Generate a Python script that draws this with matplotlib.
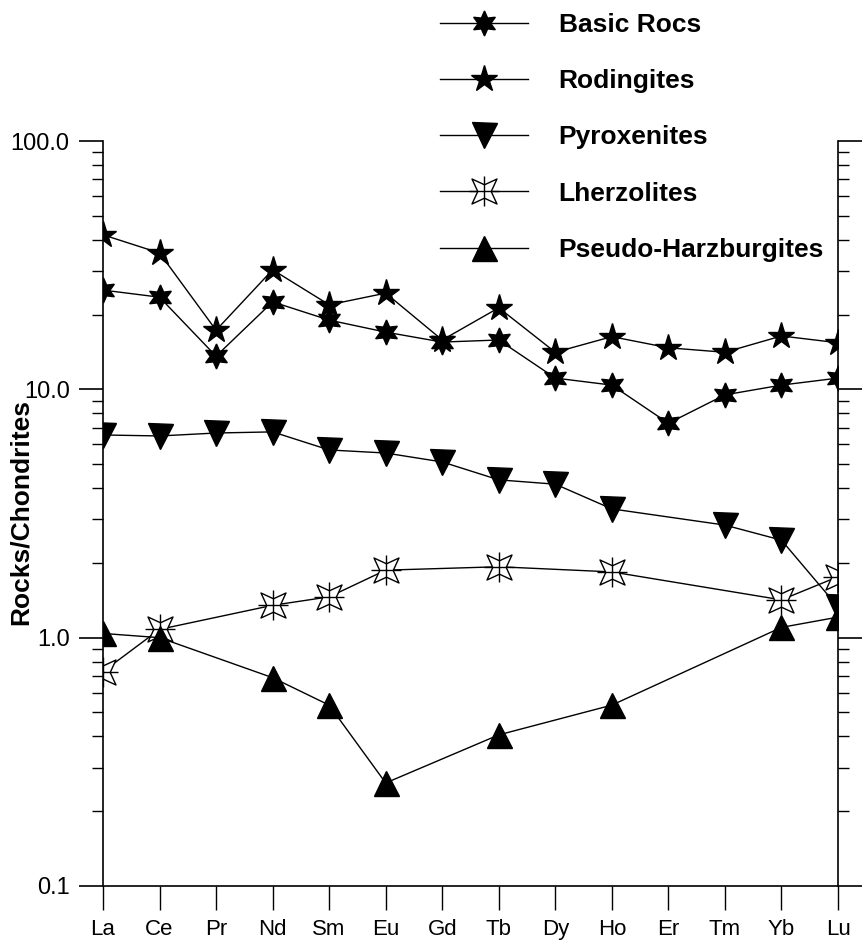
import numpy as np
import matplotlib
matplotlib.use('Agg')
import matplotlib.pyplot as plt
from matplotlib.path import Path
from matplotlib.transforms import Affine2D
from matplotlib.ticker import FixedLocator, FixedFormatter, LogLocator, NullFormatter

plt.rcParams['font.family'] = ['Liberation Sans', 'DejaVu Sans']

elements = ['La', 'Ce', 'Pr', 'Nd', 'Sm', 'Eu', 'Gd', 'Tb', 'Dy', 'Ho', 'Er', 'Tm', 'Yb', 'Lu']

# rock / chondrite ratios (None = not analysed)
basic_rocs = [25.1, 23.5, 13.6, 22.5, 19.0, 17.0, 15.5, 15.8, 11.1, 10.4, 7.3, 9.5, 10.4, 11.1]
rodingites = [41.9, 35.4, 17.3, 30.3, 21.9, 24.4, 15.8, 21.3, 14.1, 16.3, 14.7, 14.1, 16.4, 15.4]
pyroxenites = [6.55, 6.49, 6.67, 6.74, 5.70, 5.54, 5.10, 4.32, 4.15, 3.30, None, 2.84, 2.47, 1.33]
lherzolites = [0.73, 1.08, None, 1.35, 1.46, 1.87, None, 1.93, None, 1.84, None, None, 1.42, 1.76]
pseudo_harz = [1.04, 1.00, None, 0.69, 0.535, 0.26, None, 0.406, None, 0.535, None, None, 1.10, 1.21]

y_ticks = [0.1, 1.0, 10.0, 100.0]
y_tick_labels = ['0.1', '1.0', '10.0', '100.0']


def pts(vals):
    x = [i for i, v in enumerate(vals) if v is not None]
    y = [v for v in vals if v is not None]
    return x, y


# thin four-pointed star (points on the diagonals) for the lherzolites
star4 = Path.unit_regular_star(4, 0.38).transformed(Affine2D().rotate_deg(45))

fig = plt.figure(figsize=(8.66, 9.44), dpi=100)
ax = fig.add_axes([103 / 866, 1 - 886 / 944, (838 - 103) / 866, (886 - 141) / 944])

lw = 1.0
x, y = pts(basic_rocs)
h1, = ax.plot(x, y, color='black', lw=lw, marker=(6, 1, 0), ms=18, mfc='black', mec='black')
x, y = pts(rodingites)
h2, = ax.plot(x, y, color='black', lw=lw, marker='*', ms=20, mfc='black', mec='black')
x, y = pts(pyroxenites)
h3, = ax.plot(x, y, color='black', lw=lw, marker='v', ms=18, mfc='black', mec='black')
x, y = pts(lherzolites)
h4a, = ax.plot(x, y, color='black', lw=lw, marker=star4, ms=18, mfc='white', mec='black', mew=1.0)
h4b, = ax.plot(x, y, color='none', lw=0, marker='+', ms=22, mec='black', mew=1.0)
x, y = pts(pseudo_harz)
h5, = ax.plot(x, y, color='black', lw=lw, marker='^', ms=18, mfc='black', mec='black')

ax.set_yscale('log')
ax.set_ylim(0.1, 100)
ax.set_xlim(0, len(elements) - 1)

ax.yaxis.set_major_locator(FixedLocator(y_ticks))
ax.yaxis.set_major_formatter(FixedFormatter(y_tick_labels))
ax.yaxis.set_minor_locator(LogLocator(base=10, subs=np.arange(2, 10)))
ax.yaxis.set_minor_formatter(NullFormatter())

ax.set_xticks(range(len(elements)))
ax.set_xticklabels(elements)

ax.spines['top'].set_visible(False)
for s in ['left', 'right', 'bottom']:
    ax.spines[s].set_linewidth(1.2)

ax.tick_params(axis='y', which='major', direction='out', length=17, width=1.2,
               left=True, right=True, labelright=False, labelsize=17, pad=7)
ax.tick_params(axis='y', which='minor', direction='out', length=8, width=1.0,
               left=True, right=True)
ax.tick_params(axis='x', which='major', direction='out', length=17, width=1.0,
               labelsize=16, pad=7)

fig.text(21 / 866, 1 - 512 / 944, 'Rocks/Chondrites', rotation=90, ha='center', va='center',
         fontsize=19, fontweight='bold')

fig.legend([h1, h2, h3, (h4a, h4b), h5],
           ['Basic Rocs', 'Rodingites', 'Pyroxenites', 'Lherzolites', 'Pseudo-Harzburgites'],
           loc='upper left', bbox_to_anchor=(440 / 866, 1 - 13 / 944),
           frameon=False, handlelength=3.35, handletextpad=1.15, labelspacing=1.22,
           borderpad=0, borderaxespad=0, prop={'weight': 'bold', 'size': 19})

fig.savefig('out.png', dpi=100)
